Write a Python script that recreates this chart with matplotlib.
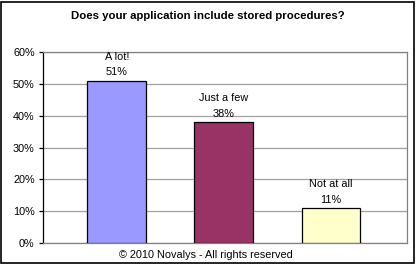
import matplotlib.pyplot as plt
from matplotlib.patches import Rectangle
from matplotlib.ticker import PercentFormatter

categories = ["A lot!", "Just a few", "Not at all"]
values = [51, 38, 11]
colors = ["#9999FF", "#993366", "#FFFFCC"]
yticks = [0, 10, 20, 30, 40, 50, 60]

plt.rcParams['font.family'] = ['Liberation Sans', 'DejaVu Sans']
plt.rcParams['font.size'] = 7.8

fig = plt.figure(figsize=(4.16, 2.64), dpi=100)
ax = fig.add_axes([43 / 416, 1 - 243 / 264, 364 / 416, 191 / 264])

x = range(len(values))
ax.bar(x, values, width=0.55, color=colors, edgecolor="black", linewidth=0.9, zorder=3)
for xi, v, c in zip(x, values, categories):
    ax.text(xi, v + 1.0, f"{c}\n{v}%", ha="center", va="bottom", linespacing=1.7)

ax.set_xlim(-0.69, 2.71)
ax.set_ylim(0, 60)
ax.set_yticks(yticks)
ax.yaxis.set_major_formatter(PercentFormatter(decimals=0))
ax.set_xticks([])
ax.grid(axis="y", color="#a0a0a0", linewidth=0.9, zorder=0)
ax.tick_params(axis="y", direction="out", length=3, width=0.9, pad=3)
for side in ["top", "right", "bottom"]:
    ax.spines[side].set_color("#808080")
    ax.spines[side].set_linewidth(0.9)
ax.spines["left"].set_color("black")
ax.spines["left"].set_linewidth(0.9)

fig.text(0.5, 1 - 16 / 264, "Does your application include stored procedures?",
         ha="center", va="center", fontweight="bold", fontsize=8.2)
fig.text(206 / 416, 1 - 255 / 264, "© 2010 Novalys - All rights reserved",
         ha="center", va="center")

fig.patches.append(Rectangle((0.5 / 416, 1.5 / 264), 413 / 416, 261 / 264,
                             transform=fig.transFigure, fill=False,
                             edgecolor="black", linewidth=1.2))

fig.savefig("out.png", dpi=100)
